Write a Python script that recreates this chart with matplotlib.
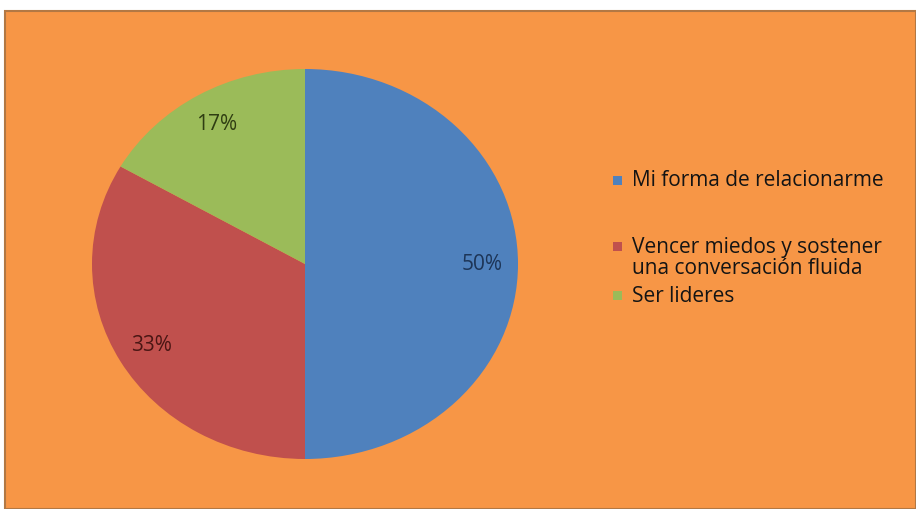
import matplotlib
matplotlib.use("Agg")
import matplotlib.pyplot as plt
from matplotlib.patches import Rectangle

categories = ["Mi forma de relacionarme",
              "Vencer miedos y sostener\nuna conversación fluida",
              "Ser lideres"]
values = [3, 2, 1]
colors = ["#4F81BD", "#C0504D", "#9BBB59"]
label_colors = ["#1D3557", "#4A1614", "#2F3D12"]

W, H = 916, 510
fig = plt.figure(figsize=(W / 100, H / 100), dpi=100, facecolor="white")

# orange chart area
bg = Rectangle((5 / W, 0), 1 - 5 / W, 498 / H, transform=fig.transFigure,
               facecolor="#F79646", edgecolor="#B27844", linewidth=1.5, zorder=-10)
fig.patches.append(bg)

cx, cy, rx, ry = 305, 265, 213, 195
ax = fig.add_axes([(cx - rx) / W, (H - cy - ry) / H, 2 * rx / W, 2 * ry / H])
ax.set_facecolor("none")
wedges, texts, autotexts = ax.pie(values, colors=colors, startangle=90, counterclock=False,
                                  autopct=lambda p: f"{p:.0f}%", pctdistance=0.83,
                                  textprops=dict(family="Open Sans", fontsize=15))
for t, c in zip(autotexts, label_colors):
    t.set_color(c)
ax.set_aspect("auto")
ax.set_xlim(-1, 1)
ax.set_ylim(-1, 1)
ax.axis("off")

# legend
legend_y = [181, 258, 296]
for lab, col, y in zip(categories, colors, legend_y):
    lines = lab.split("\n")
    first_y = y - (len(lines) - 1) * 10.5
    fig.patches.append(Rectangle((613 / W, (H - first_y - 4.5) / H), 9 / W, 9 / H,
                                 transform=fig.transFigure, facecolor=col,
                                 edgecolor="none", zorder=3))
    fig.text(632 / W, (H - y) / H, lab, ha="left", va="center", family="Open Sans",
             fontsize=15, color="#141414", linespacing=1.05)

fig.savefig("out.png", dpi=100, facecolor=fig.get_facecolor())
